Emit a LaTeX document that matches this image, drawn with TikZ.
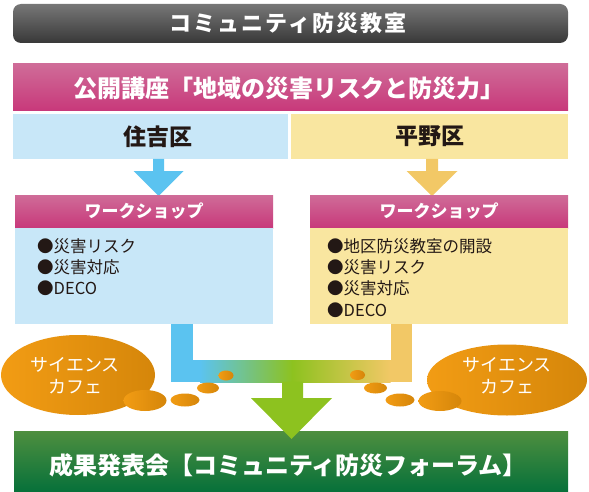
\documentclass[tikz,border=0pt]{standalone}
\usepackage{fontspec}
\setmainfont{Noto Sans CJK JP}
\definecolor{pinkT}{HTML}{CF6C98}
\definecolor{pinkB}{HTML}{C8387A}
\definecolor{grayT}{HTML}{777777}
\definecolor{grayB}{HTML}{383838}
\definecolor{lblue}{HTML}{C8E7F8}
\definecolor{lyel}{HTML}{F9E6A0}
\definecolor{arrB}{HTML}{5BC3F0}
\definecolor{arrY}{HTML}{F2C866}
\definecolor{arrG}{HTML}{8DC21F}
\definecolor{grnT}{HTML}{4E8F3F}
\definecolor{grnB}{HTML}{06703A}
\definecolor{orL}{HTML}{F29C14}
\definecolor{orR}{HTML}{D5860A}
\definecolor{ink}{HTML}{231815}
\tikzset{
  fs/.style={font=\fontsize{#1}{#1}\selectfont},
  box/.style={inner sep=0pt, outer sep=0pt, rectangle},
  titlebox/.style={box, rounded corners=8pt, top color=grayT, bottom color=grayB},
  pinkbar/.style={box, top color=pinkT, bottom color=pinkB},
  greenbar/.style={box, top color=grnT, bottom color=grnB},
  wtext/.style={inner sep=0pt, text=white},
  btext/.style={inner sep=0pt, text=ink},
  listtext/.style={btext, align=left, anchor=west, font=\fontsize{16.5}{21.2}\selectfont},
  bubtext/.style={wtext, align=center, font=\fontsize{18}{22}\selectfont},
  dot/.style={left color=orL, right color=orR},
}
\begin{document}
\begin{tikzpicture}[x=1pt,y=-1pt]
\useasboundingbox (0,0) rectangle (589,492);
\fill[white] (0,0) rectangle (589,492);

% title
\node[titlebox, minimum width=555pt, minimum height=39pt] (title) at (290.5,23.5) {};
\node[wtext, font=\bfseries\fontsize{22}{22}\selectfont\addfontfeatures{LetterSpace=9}] (titletext) at (288,23) {コミュニティ防災教室};

% lecture
\node[pinkbar, minimum width=555pt, minimum height=47pt] (lecture) at (290.5,87.5) {};
\node[wtext, font=\bfseries\fontsize{24}{24}\selectfont] (lecturetext) at (289,88) {公開講座「地域の災害リスクと防災力」};

% districts
\node[box, fill=lblue, minimum width=275pt, minimum height=45pt] (sumi) at (150.5,136.5) {};
\node[box, fill=lyel, minimum width=277pt, minimum height=45pt] (hira) at (429.5,136.5) {};
\node[btext, font=\bfseries\fontsize{23}{23}\selectfont] (sumitext) at (158,136.5) {住吉区};
\node[btext, font=\bfseries\fontsize{23}{23}\selectfont] (hiratext) at (430,136.5) {平野区};

% small arrows
\fill[arrB] (153,159) -- (164,159) -- (164,171) -- (183.5,171) -- (158.5,196) -- (133.5,171) -- (153,171) -- cycle;
\fill[arrY] (426,159) -- (438,159) -- (438,171) -- (457.5,171) -- (432,196) -- (406.5,171) -- (426,171) -- cycle;

% workshops
\node[pinkbar, minimum width=258pt, minimum height=33pt] (wsLh) at (144,211.5) {};
\node[box, fill=lblue, minimum width=258pt, minimum height=96pt] (wsLb) at (144,276) {};
\node[pinkbar, minimum width=258pt, minimum height=33pt] (wsRh) at (439,211.5) {};
\node[box, fill=lyel, minimum width=258pt, minimum height=96pt] (wsRb) at (439,276) {};
\node[wtext, font=\bfseries\fontsize{17}{17}\selectfont] (wsLt) at (144,211.5) {ワークショップ};
\node[wtext, font=\bfseries\fontsize{17}{17}\selectfont] (wsRt) at (439,211.5) {ワークショップ};
\node[listtext] (listL) at (37,267) {●災害リスク\\●災害対応\\●DECO};
\node[listtext] (listR) at (327,278) {●地区防災教室の開設\\●災害リスク\\●災害対応\\●DECO};

% bottom band
\node[greenbar, minimum width=554pt, minimum height=61pt] (forum) at (291,461.5) {};
\node[wtext, font=\bfseries\fontsize{24}{24}\selectfont] (forumtext) at (288,465) {成果発表会【コミュニティ防災フォーラム】};

% merging connector
\fill[arrB] (171,324) rectangle (193,382);
\fill[arrY] (391,324) rectangle (412,382);
\fill[arrB] (171,360) rectangle (200.5,382);
\shade[left color=arrB, right color=arrG] (200,360) rectangle (292.5,382);
\shade[left color=arrG, right color=arrY] (292,360) rectangle (390.5,382);
\fill[arrY] (390,360) rectangle (412,382);
\fill[arrG] (282,381.5) -- (303,381.5) -- (303,398) -- (332,398) -- (291.5,439) -- (251,398) -- (282,398) -- cycle;

% science cafe bubbles
\shade[dot] (78,375) ellipse [x radius=77, y radius=40];
\shade[dot] (507,380) ellipse [x radius=80, y radius=35.5];
\node[bubtext] (cafeL) at (75,376) {サイエンス\\カフェ};
\node[bubtext] (cafeR) at (507,376) {サイエンス\\カフェ};

% thought dots
\shade[dot] (145,400.5) ellipse [x radius=21.5, y radius=10.5];
\shade[dot] (185,400) ellipse [x radius=14.5, y radius=6.5];
\shade[dot] (208,388) ellipse [x radius=11, y radius=5.5];
\shade[dot] (226,375.5) ellipse [x radius=7.5, y radius=5];
\shade[dot] (440,401) ellipse [x radius=21.5, y radius=10];
\shade[dot] (400,400) ellipse [x radius=14.5, y radius=6.5];
\shade[dot] (375.5,388) ellipse [x radius=11.5, y radius=5.5];
\shade[dot] (357.5,375) ellipse [x radius=7.5, y radius=5];
\end{tikzpicture}
\end{document}
